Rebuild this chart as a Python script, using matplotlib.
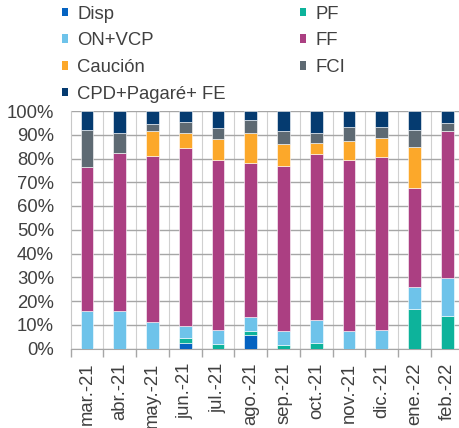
import matplotlib
matplotlib.use("Agg")
import matplotlib.pyplot as plt
from matplotlib.patches import Patch
import numpy as np

plt.rcParams['font.family'] = ['Liberation Sans', 'DejaVu Sans']

months = ["mar.-21", "abr.-21", "may.-21", "jun.-21", "jul.-21", "ago.-21",
          "sep.-21", "oct.-21", "nov.-21", "dic.-21", "ene.-22", "feb.-22"]

disp    = [0.0, 0.0, 0.0, 2.4, 0.0, 5.6, 0.0, 0.0, 0.0, 0.0, 0.0, 0.0]
pf      = [0.0, 0.0, 0.0, 2.1, 2.0, 1.7, 1.4, 2.2, 0.0, 0.0, 16.6, 13.8]
on_vcp  = [16.0, 15.6, 11.0, 4.9, 5.7, 6.0, 5.9, 9.9, 7.3, 7.6, 9.1, 15.8]
ff      = [60.3, 66.6, 70.2, 74.9, 71.8, 64.6, 69.7, 69.6, 71.9, 72.9, 42.0, 62.1]
caucion = [0.0, 0.0, 10.5, 6.3, 8.7, 12.8, 9.1, 4.8, 8.3, 8.3, 17.3, 0.0]
fci     = [15.6, 8.5, 2.7, 4.9, 4.6, 5.5, 5.5, 4.1, 5.9, 4.5, 7.0, 3.1]
cpd     = [8.1, 9.3, 5.6, 4.5, 7.2, 3.8, 8.4, 9.4, 6.6, 6.7, 8.0, 5.2]

series = [
    ("Disp", disp, "#0563c1"),
    ("PF", pf, "#0db39b"),
    ("ON+VCP", on_vcp, "#6ec3ea"),
    ("FF", ff, "#ab3f82"),
    ("Caución", caucion, "#fca82a"),
    ("FCI", fci, "#5e6a73"),
    ("CPD+Pagaré+ FE", cpd, "#053b70"),
]

W, H = 459, 428
fig = plt.figure(figsize=(W / 100, H / 100), dpi=100)
left, right = 70.7, 463.7
bottom_px, top_px = 348.5, 111
ax = fig.add_axes([left / W, 1 - bottom_px / H, (right - left) / W, (bottom_px - top_px) / H])

x = np.arange(len(months))
bottom = np.zeros(len(months))
for name, vals, col in series:
    v = np.array(vals, dtype=float)
    ax.bar(x, v, bottom=bottom, width=0.39, color=col, edgecolor="white",
           linewidth=0.4, zorder=3)
    bottom += v

ax.set_xlim(-0.5, len(months) - 0.5)
ax.set_ylim(0, 100)
ax.set_yticks(np.arange(0, 101, 10))
ax.set_yticklabels([f"{t}%" for t in range(0, 101, 10)])
ax.yaxis.grid(True, color="#a6a6a6", linewidth=1.0, zorder=0)
for b in np.arange(0.5, len(months) - 0.5, 1):
    ax.axvline(b, color="#d0d0d0", linewidth=0.8, zorder=0)

ax.set_xticks(x)
ax.set_xticklabels(months, rotation=90)
ax.set_xticks(np.arange(-0.5, len(months), 1), minor=True)
ax.tick_params(axis="x", which="major", length=0, pad=10, labelsize=13.3, colors="#404040")
ax.tick_params(axis="x", which="minor", length=6, color="#a6a6a6", width=1)
ax.tick_params(axis="y", length=0, labelsize=13.3, colors="#404040", pad=12)

for s in ["top", "right"]:
    ax.spines[s].set_visible(False)
ax.spines["left"].set_color("#c8c8c8")
ax.spines["bottom"].set_color("#a6a6a6")

order = [0, 2, 4, 6, 1, 3, 5]
handles = [Patch(facecolor=series[i][2], edgecolor="none") for i in order]
labels = [series[i][0] for i in order]
leg = fig.legend(handles, labels, ncol=2, loc="upper left",
                 bbox_to_anchor=(58 / W, 1 - 2 / H), frameon=False,
                 fontsize=13.3, handlelength=0.35, handleheight=0.35,
                 handletextpad=0.5, labelspacing=0.52, columnspacing=4.0,
                 borderaxespad=0, borderpad=0.2)
for t in leg.get_texts():
    t.set_color("#404040")

fig.savefig("out.png", dpi=100)
